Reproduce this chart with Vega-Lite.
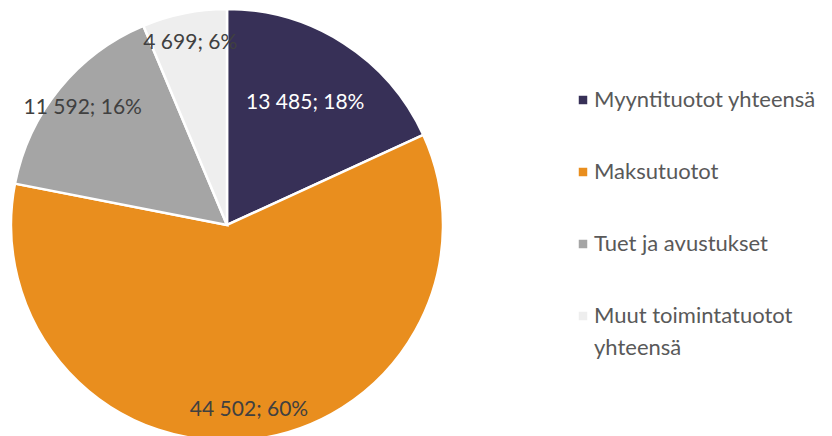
{
  "$schema": "https://vega.github.io/schema/vega-lite/v6.json",
  "width": 454,
  "height": 436,
  "padding": {"left": 0, "top": 4, "right": 0, "bottom": 0},
  "background": "white",
  "config": {
    "view": {"stroke": null},
    "font": "Lato",
    "style": {"guide-label": {"lineHeight": 32}}
  },
  "data": {
    "values": [
      {"k": 1, "category": "Myyntituotot yhteensä", "value": 13485, "label": "13 485; 18%"},
      {"k": 2, "category": "Maksutuotot", "value": 44502, "label": "44 502; 60%"},
      {"k": 3, "category": "Tuet ja avustukset", "value": 11592, "label": "11 592; 16%"},
      {"k": 4, "category": "Muut toimintatuotot yhteensä", "value": 4699, "label": "4 699; 6%"}
    ]
  },
  "encoding": {
    "theta": {"field": "value", "type": "quantitative", "stack": true},
    "order": {"field": "k", "type": "quantitative"}
  },
  "layer": [
    {
      "mark": {"type": "arc", "outerRadius": 216, "stroke": "white", "strokeWidth": 2.5},
      "encoding": {
        "color": {
          "field": "category",
          "type": "nominal",
          "scale": {
            "domain": ["Myyntituotot yhteensä", "Maksutuotot", "Tuet ja avustukset", "Muut toimintatuotot yhteensä"],
            "range": ["#373057", "#E98E1E", "#A5A5A5", "#EEEEEE"]
          },
          "legend": {
            "title": null,
            "orient": "none",
            "legendX": 572,
            "legendY": 82,
            "padding": 0,
            "symbolType": "square",
            "symbolSize": 72,
            "symbolStrokeWidth": 0,
            "labelFont": "Lato",
            "labelFontSize": 22,
            "labelColor": "#595959",
            "labelOffset": 0,
            "labelLimit": 400,
            "rowPadding": 50,
            "labelExpr": "datum.label == 'Muut toimintatuotot yhteensä' ? ['Muut toimintatuotot', 'yhteensä'] : datum.label"
          }
        }
      }
    },
    {
      "mark": {"type": "text", "radius": 145, "fontSize": 21, "font": "Lato", "color": "white"},
      "encoding": {
        "text": {"condition": {"test": "datum.k != 1", "value": ""}, "field": "label", "type": "nominal"}
      }
    },
    {
      "mark": {"type": "text", "radius": 186, "fontSize": 21, "font": "Lato", "color": "#404040"},
      "encoding": {
        "text": {"condition": {"test": "datum.k == 1", "value": ""}, "field": "label", "type": "nominal"}
      }
    }
  ]
}
